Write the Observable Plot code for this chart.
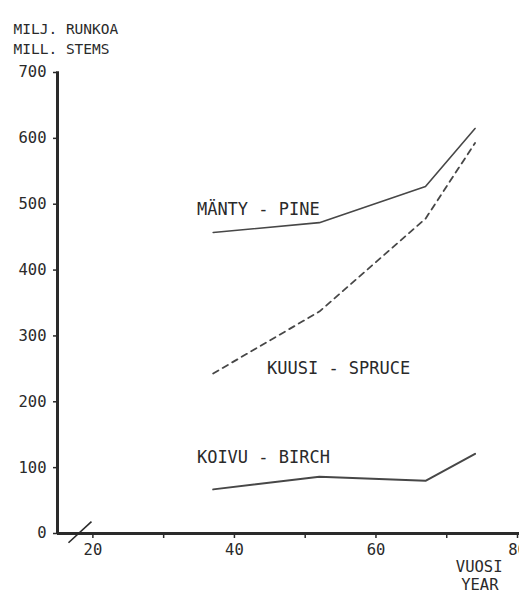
<!DOCTYPE html>
<html>
<head>
<meta charset="utf-8">
<script src="https://cdn.jsdelivr.net/npm/d3@7"></script>
<script src="https://cdn.jsdelivr.net/npm/@observablehq/plot@0.6"></script>
<style>
  html, body { margin: 0; padding: 0; background: #fff; }
  #chart svg { display: block; }
</style>
</head>
<body>
<div id="chart"></div>
<script>
// Growing stock by tree species, million stems, by inventory year
const years = [37, 52, 67, 74];
const pine = [457, 472, 527, 615];
const spruce = [243, 337, 478, 593];
const birch = [67, 86, 80, 121];

const speciesLabels = [
  {name: "MÄNTY - PINE", year: 34.7, value: 492},
  {name: "KUUSI - SPRUCE", year: 44.6, value: 250},
  {name: "KOIVU - BIRCH", year: 34.7, value: 115}
];

const yTicks = [0, 100, 200, 300, 400, 500, 600, 700];
const xTicks = [20, 30, 40, 50, 60, 70, 80];
const xTickLabels = [20, 40, 60, 80];
const axisBreak = [{x1: 16.55, y1: -14, x2: 19.8, y2: 18}];

const series = (vals, name) => years.map((y, i) => ({year: y, value: vals[i], name}));
const pineData = series(pine, "pine");
const spruceData = series(spruce, "spruce");
const birchData = series(birch, "birch");

const ink = "#2a2a2a";
const lineInk = "#474747";

const chart = Plot.plot({
  width: 519,
  height: 594,
  marginLeft: 57,
  marginRight: 2,
  marginTop: 72,
  marginBottom: 61,
  style: {fontFamily: "DejaVu Sans Mono", color: ink, background: "#fff", overflow: "hidden"},
  x: {domain: [15, 80]},
  y: {domain: [0, 700]},
  marks: [
    // axes: ticks and labels
    Plot.axisY({ticks: yTicks, tickSize: 4, tickPadding: 7, fontSize: 15.5, stroke: ink, strokeWidth: 1.5, label: null}),
    Plot.axisX({ticks: xTicks, tickSize: 5, tickPadding: 5, fontSize: 15.5, stroke: ink, strokeWidth: 1.5, label: null,
      tickFormat: d => xTickLabels.includes(d) ? String(d) : ""}),
    // data lines
    Plot.line(pineData, {x: "year", y: "value", stroke: lineInk, strokeWidth: 1.6}),
    Plot.line(spruceData, {x: "year", y: "value", stroke: lineInk, strokeWidth: 1.8, strokeDasharray: "6,5"}),
    Plot.line(birchData, {x: "year", y: "value", stroke: lineInk, strokeWidth: 2}),
    // species labels
    Plot.text(speciesLabels, {x: "year", y: "value", text: "name", textAnchor: "start", fontSize: 17, fill: ink}),
    // axis lines
    Plot.ruleX([15], {y1: 0, y2: 701, stroke: ink, strokeWidth: 3}),
    Plot.ruleY([0], {x1: 15, x2: 81, stroke: ink, strokeWidth: 3}),
    Plot.link(axisBreak, {x1: "x1", y1: "y1", x2: "x2", y2: "y2", stroke: ink, strokeWidth: 1.6}),
    // axis titles
    Plot.text(["MILJ. RUNKOA"], {frameAnchor: "top-left", dx: -44, dy: -49, textAnchor: "start", fontSize: 14.5, fill: ink}),
    Plot.text(["MILL. STEMS"], {frameAnchor: "top-left", dx: -44, dy: -29, textAnchor: "start", fontSize: 14.5, fill: ink}),
    Plot.text(["VUOSI"], {frameAnchor: "bottom-right", dx: -15, dy: 38, textAnchor: "end", fontSize: 15.5, fill: ink}),
    Plot.text(["YEAR"], {frameAnchor: "bottom-right", dx: -19, dy: 56, textAnchor: "end", fontSize: 15.5, fill: ink})
  ]
});

document.getElementById("chart").appendChild(chart);
</script>
</body>
</html>
